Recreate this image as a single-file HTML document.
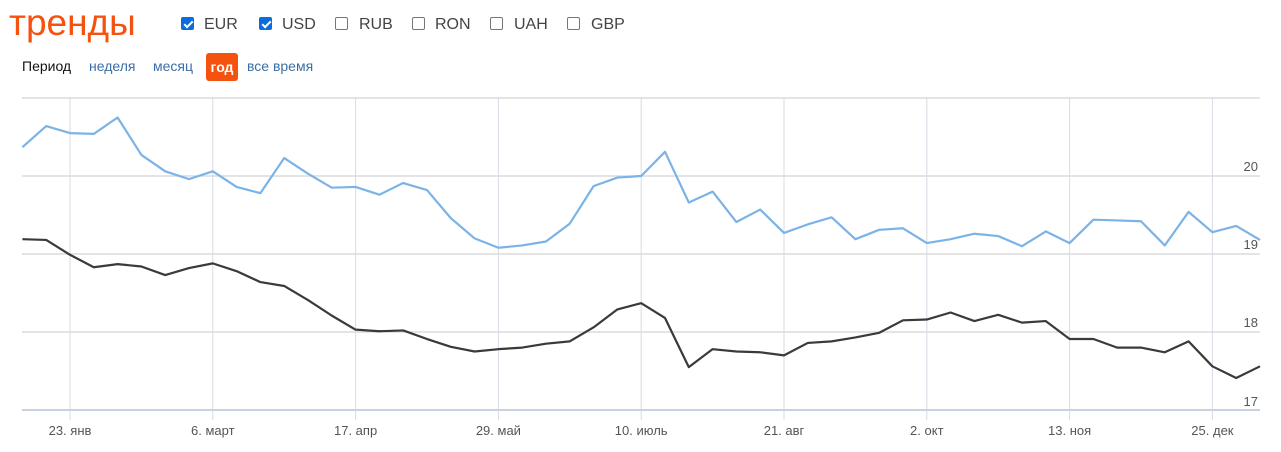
<!DOCTYPE html>
<html><head><meta charset="utf-8">
<style>
body{margin:0;width:1281px;height:452px;background:#fff;font-family:"Liberation Sans",sans-serif;overflow:hidden;position:relative}
.t{position:absolute;white-space:nowrap}
.cb{position:absolute;top:17px;width:13px;height:13px;border:1px solid #767676;border-radius:2px;box-sizing:border-box;background:#fff}
.cb.on{background:#0b6cde;border-color:#0b6cde}
.cb.on:after{content:"";position:absolute;left:3.5px;top:0.5px;width:3px;height:7px;border:solid #fff;border-width:0 2px 2px 0;transform:rotate(45deg)}
.lbl{position:absolute;top:16px;font-size:16px;color:#444}
.lnk{position:absolute;top:58px;font-size:14px;color:#3b6ea5}
</style></head><body>
<div class="t" style="left:9px;top:2px;font-size:37px;color:#f5520f">тренды</div>
<div class="cb on" style="left:181px"></div><div class="lbl" style="left:204px">EUR</div>
<div class="cb on" style="left:259px"></div><div class="lbl" style="left:282px">USD</div>
<div class="cb" style="left:335px"></div><div class="lbl" style="left:359px">RUB</div>
<div class="cb" style="left:412px"></div><div class="lbl" style="left:435px">RON</div>
<div class="cb" style="left:490px"></div><div class="lbl" style="left:514px">UAH</div>
<div class="cb" style="left:567px"></div><div class="lbl" style="left:591px">GBP</div>
<div class="t" style="left:22px;top:58px;font-size:14px;color:#111">Период</div>
<div class="lnk" style="left:89px">неделя</div>
<div class="lnk" style="left:153px">месяц</div>
<div class="t" style="left:206px;top:53px;width:32px;height:28px;line-height:28px;text-align:center;background:#f5520f;color:#fff;font-weight:bold;font-size:14px;border-radius:3px">год</div>
<div class="lnk" style="left:247px">все время</div>
<svg id="chart" width="1281" height="452" style="position:absolute;left:0;top:0"></svg>
<script>
const eurValues=[20.37,20.64,20.55,20.54,20.75,20.27,20.06,19.96,20.06,19.86,19.78,20.23,20.03,19.85,19.86,19.76,19.91,19.82,19.46,19.20,19.08,19.11,19.16,19.39,19.87,19.98,20.00,20.31,19.66,19.80,19.41,19.57,19.27,19.38,19.47,19.19,19.31,19.33,19.14,19.19,19.26,19.23,19.10,19.29,19.14,19.44,19.43,19.42,19.11,19.54,19.28,19.36,19.18];
const usdValues=[19.19,19.18,18.99,18.83,18.87,18.84,18.73,18.82,18.88,18.78,18.64,18.59,18.41,18.21,18.03,18.01,18.02,17.91,17.81,17.75,17.78,17.80,17.85,17.88,18.06,18.29,18.37,18.18,17.55,17.78,17.75,17.74,17.70,17.86,17.88,17.93,17.99,18.15,18.16,18.25,18.14,18.22,18.12,18.14,17.91,17.91,17.80,17.80,17.74,17.88,17.56,17.41,17.56];
const yTicks=[17,18,19,20,21];
const xTickIdx=[2,8,14,20,26,32,38,44,50];
const xTickLabels=["23. янв","6. март","17. апр","29. май","10. июль","21. авг","2. окт","13. ноя","25. дек"];
const svg=document.getElementById('chart');const NS='http://www.w3.org/2000/svg';
const x=i=>22.4+i*23.8;
const y=v=>410-(v-17)*78;
function mk(t,a){const e=document.createElementNS(NS,t);for(const k in a)e.setAttribute(k,a[k]);svg.appendChild(e);return e;}
xTickIdx.forEach((ix,k)=>{
 const l=mk('line',{x1:x(ix),x2:x(ix),y1:97,y2:420,stroke:'#d6dbe3','stroke-width':1});
 
 
 const t=mk('text',{x:x(ix),y:435,'text-anchor':'middle','font-size':13,fill:'#555','font-family':'Liberation Sans, DejaVu Sans, sans-serif'});
 t.textContent=xTickLabels[k];
 
 
});
yTicks.forEach(v=>{
 const l=mk('line',{x1:22,x2:1260,y1:y(v),y2:y(v),stroke:v===17?'#c7d1e0':'#dcdcdc','stroke-width':v===17?2:1.5});
 
 
 if(v<21){const t=mk('text',{x:1258,y:v===17?y(v)-4:y(v)-5,'text-anchor':'end','font-size':13,fill:'#555','font-family':'Liberation Sans, DejaVu Sans, sans-serif'});
 t.textContent=v;
 
 }
});
function line(vals,color,name){
 const p=mk('polyline',{points:vals.map((v,i)=>x(i)+','+y(v)).join(' '),fill:'none',stroke:color,'stroke-width':2.2,'stroke-linejoin':'round'});
 
 
}
line(eurValues,'#7cb3e6','eur-line');
line(usdValues,'#3a3a3a','usd-line');
</script>
</body></html>
